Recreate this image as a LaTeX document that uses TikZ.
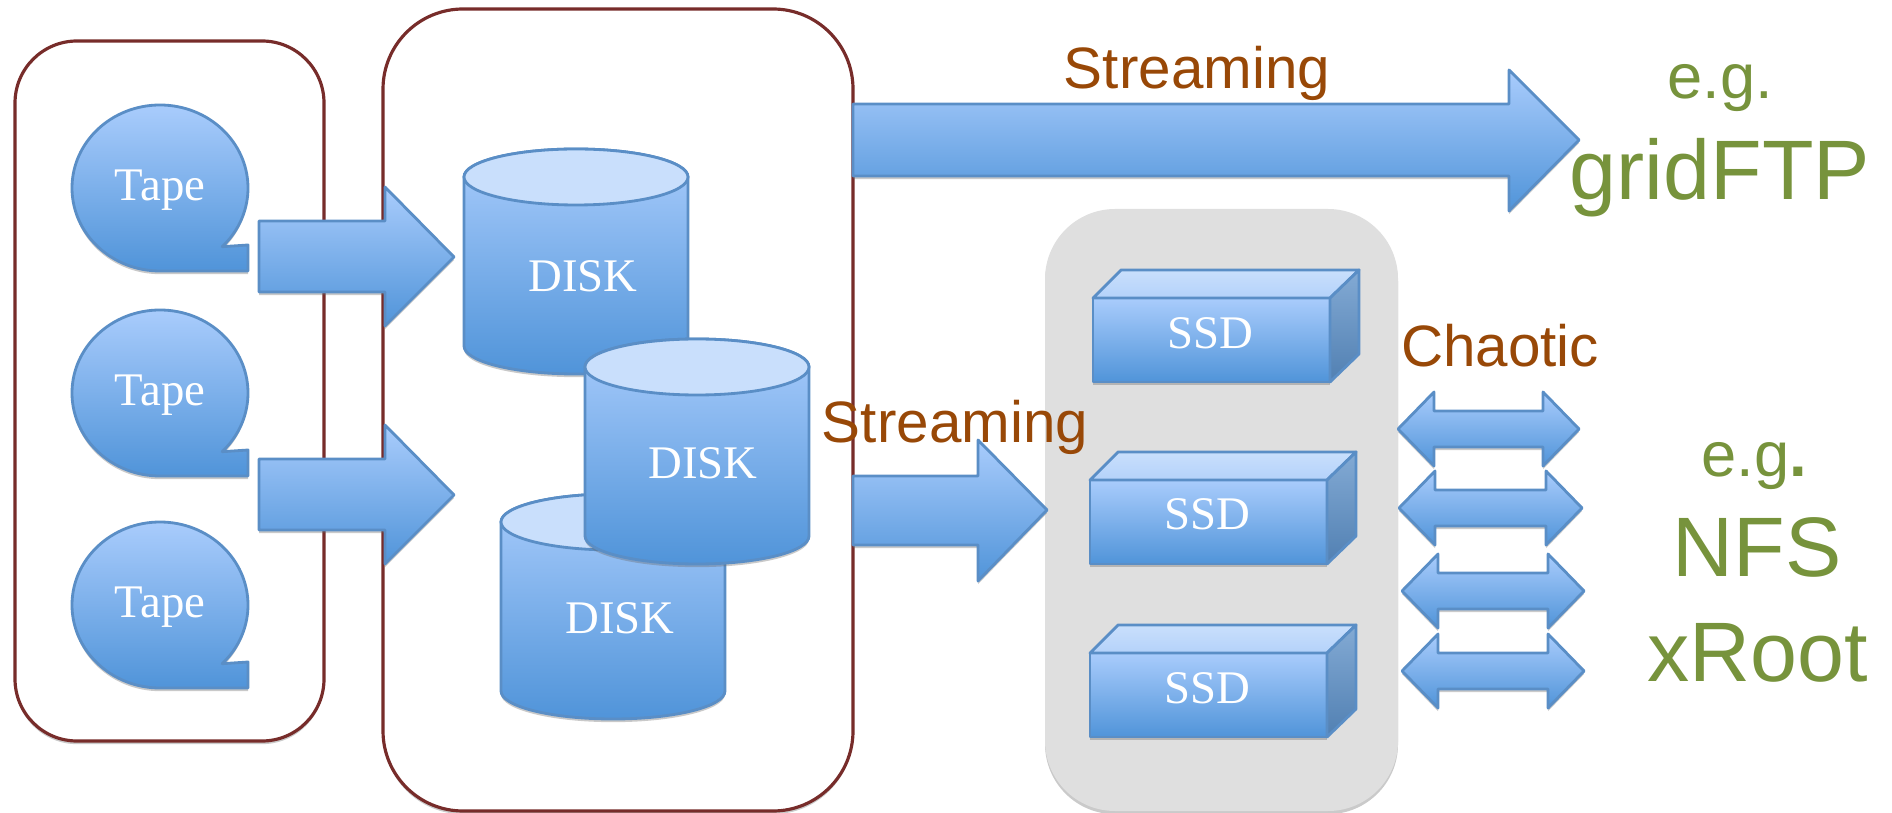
\documentclass[tikz,border=0pt]{standalone}
\usepackage{fontspec}
\setmainfont{Liberation Serif}
\newfontfamily\labelfont{Liberation Sans}
\usetikzlibrary{shadows}
\definecolor{boxred}{HTML}{772C2A}
\definecolor{blueline}{HTML}{5A8EC6}
\definecolor{bluetop}{HTML}{A9CCFC}
\definecolor{bluebot}{HTML}{5094D9}
\definecolor{blueface}{HTML}{C9DFFC}
\definecolor{blueroof}{HTML}{B4D2FA}
\definecolor{labelbrown}{HTML}{984807}
\definecolor{labelgreen}{HTML}{77933C}
\definecolor{boxgray}{HTML}{DFDFDF}
\tikzset{
  softshadow/.style={drop shadow={shadow xshift=0pt,shadow yshift=-0.9pt,opacity=0.35,fill=black!60}},
  holder/.style={draw=boxred,line width=0.9pt,fill=white,rounded corners=0.62cm,softshadow},
  bluebody/.style={draw=blueline,line width=0.8pt,line join=round,top color=bluetop,bottom color=bluebot,softshadow},
  blueflat/.style={draw=blueline,line width=0.8pt,line join=round},
  inlabel/.style={text=white,font=\fontsize{13.3}{13.3}\selectfont},
  brownlabel/.style={anchor=base,inner sep=0pt,text=labelbrown,font=\labelfont\fontsize{16.6}{16.6}\selectfont},
  greensmall/.style={anchor=base,inner sep=0pt,text=labelgreen,font=\labelfont\fontsize{18}{18}\selectfont},
  greenbig/.style={anchor=base,inner sep=0pt,text=labelgreen,font=\labelfont\fontsize{24}{24}\selectfont},
}

\begin{document}
\begin{tikzpicture}[x=0.01cm,y=-0.01cm]
\useasboundingbox (0,0) rectangle (1892,813);
% holders
\path[holder] (15,41) rectangle (324,741);
\path[holder,rounded corners=0.8cm] (383,9) rectangle (853,811);
\path[softshadow,fill=boxgray,rounded corners=0.7cm] (1045,209) rectangle (1398,811);
% tapes
\foreach \n/\y in {1/0,2/205,3/417} {
  \path[bluebody] (248,271+\y)--(160,271+\y)
      arc[start angle=90,end angle=405,x radius=88,y radius=83]
      --(248,245+\y)--cycle;
  \node[inlabel] (tape\n) at (160,190+\y) {Tape};
}
% tape to disk arrows
\foreach \y in {0,238} {
  \path[bluebody] (259,221+\y)--(385,221+\y)--(385,187+\y)--(454,257+\y)
      --(385,326+\y)--(385,292+\y)--(259,292+\y)--cycle;
}
% disks
\foreach \n/\x/\y/\lx/\ly in {1/464/149/583/276,3/501/494/620/618,2/585/339/703/463} {
  \path[bluebody] (\x,\y+28)--++(0,169)
      arc[start angle=180,end angle=0,x radius=112,y radius=28]
      --++(0,-169) arc[start angle=0,end angle=-180,x radius=112,y radius=28]--cycle;
  \path[blueflat,fill=blueface] (\x+112,\y+28) ellipse[x radius=112,y radius=28];
  \node[inlabel] (disk\n) at (\lx,\ly) {DISK};
}
% streaming arrows
\path[bluebody] (853,104)--(1509,104)--(1509,70)--(1579,140)--(1509,211)
    --(1509,176)--(853,176)--cycle;
\node[brownlabel] (stream1) at (1197,89) {Streaming};
\node[brownlabel] (stream2) at (955,443) {Streaming};
\path[bluebody] (853,476)--(978,476)--(978,440)--(1047,510)--(978,581)
    --(978,545)--(853,545)--cycle;
% ssds
\foreach \n/\x/\y/\lx/\ly in {1/1093/270/1210/333,2/1090/452/1207/514,3/1090/625/1207/688} {
  \path[bluebody] (\x,\y+28)--(\x+237,\y+28)--(\x+237,\y+112)--(\x,\y+112)--cycle;
  \path[blueflat,top color=blueface,bottom color=blueroof] (\x,\y+28)--(\x+28,\y)--(\x+266,\y)--(\x+237,\y+28)--cycle;
  \path[blueflat,top color=blueline!75!white,bottom color=blueline!90!black] (\x+237,\y+28)--(\x+266,\y)--(\x+266,\y+84)--(\x+237,\y+112)--cycle;
  \node[inlabel] (ssd\n) at (\lx,\ly) {SSD};
}
% chaotic arrows
\foreach \x/\y/\w in {1398/429/181,1399/508/183,1402/591/182,1402/671/182} {
  \path[bluebody] (\x,\y)--(\x+36,\y-37)--(\x+36,\y-18)--(\x+\w-36,\y-18)--(\x+\w-36,\y-37)
      --(\x+\w,\y)--(\x+\w-36,\y+37)--(\x+\w-36,\y+18)--(\x+36,\y+18)--(\x+36,\y+37)--cycle;
}
\node[brownlabel] (chaotic) at (1500,367) {Chaotic};
% examples
\node[greensmall] (eg1) at (1720,99) {e.g.};
\node[greenbig] (gridftp) at (1720,200) {gridFTP};
\node[greensmall] (eg2) at (1754,476) {e.g\textbf{.}};
\node[greenbig] (nfs) at (1757,576) {NFS};
\node[greenbig] (xroot) at (1758,681) {xRoot};
\end{tikzpicture}
\end{document}
